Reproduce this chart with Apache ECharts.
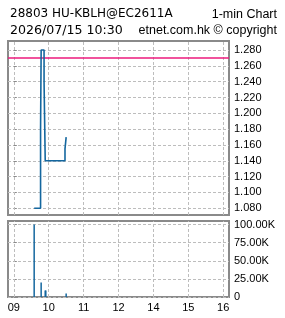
<!DOCTYPE html>
<html><head><meta charset="utf-8">
<script src="https://cdn.jsdelivr.net/npm/echarts@6/dist/echarts.min.js"></script>
<style>html,body{margin:0;padding:0;background:#fff}#c{width:285px;height:318px}</style>
</head><body><div id="c"></div>
<script>
// x values are trading minutes after 09:00 (lunch break 12:00-13:00 removed)
const xTickValues = [0, 60, 120, 180, 240, 300, 360];
const xTickLabels = ['09', '10', '11', '12', '14', '15', '16'];
const priceTicks = [1.08, 1.10, 1.12, 1.14, 1.16, 1.18, 1.20, 1.22, 1.24, 1.26, 1.28];
const volTicks = [0, 25000, 50000, 75000, 100000];
const priceMinutes = [35, 46, 47, 52, 54, 88, 90];
const priceValues = [1.080, 1.180, 1.280, 1.240, 1.140, 1.155, 1.170];
const refPrice = 1.270;
const volMinutes = [35, 47, 54, 55, 90];
const volValues = [100000, 20000, 9000, 9000, 5000];
const titleLeft1 = '28803 HU-KBLH@EC2611A';
const titleRight1 = '1-min Chart';
const titleLeft2 = '2026/07/15 10:30';
const titleRight2 = 'etnet.com.hk © copyright';

const chart = echarts.init(document.getElementById('c'), null, {renderer: 'canvas'});
const gridColor = '#bdbdbd';
const borderColor = '#8a8a8a';
const fontL = {fontFamily: 'DejaVu Sans', fontSize: 12, color: '#000', fontWeight: 'normal'};
const fontL2 = {fontFamily: 'DejaVu Sans', fontSize: 12.6, color: '#000', fontWeight: 'normal'};
const fontR = {fontFamily: 'Liberation Sans', fontSize: 12.5, color: '#000', fontWeight: 'normal'};
const splitDash = {show: true, lineStyle: {color: gridColor, type: [3, 2], width: 1}};
const vGridStyle = {color: gridColor, type: [3, 2], width: 1};
const vGrid = xTickValues.map(v => ({xAxis: v, lineStyle: vGridStyle}));

function xAxis(gi, showLabel) {
  return {
    type: 'value', gridIndex: gi, min: -10, max: 370,
    axisLine: {show: false},
    axisTick: {show: false, customValues: xTickValues},
    axisLabel: {show: showLabel, customValues: xTickValues, margin: 5,
      fontFamily: 'Liberation Sans', fontSize: 11, color: '#000',
      formatter: v => xTickLabels[xTickValues.indexOf(v)]},
    splitLine: {show: false}
  };
}

chart.setOption({
  animation: false,
  backgroundColor: '#fff',
  title: [
    {text: titleLeft1, left: 10, top: 8, padding: 0, textStyle: fontL},
    {text: titleRight1, right: 8, top: 8, padding: 0, textStyle: fontR},
    {text: titleLeft2, left: 10, top: 24, padding: 0, textStyle: fontL2},
    {text: titleRight2, right: 8, top: 24, padding: 0, textStyle: fontR}
  ],
  grid: [
    {left: 8, top: 41, width: 221, height: 174, show: true, borderColor: borderColor, borderWidth: 2, backgroundColor: 'transparent'},
    {left: 8, top: 221, width: 221, height: 76, show: true, borderColor: borderColor, borderWidth: 2, backgroundColor: 'transparent'}
  ],
  xAxis: [xAxis(0, false), xAxis(1, true)],
  yAxis: [
    {type: 'value', gridIndex: 0, position: 'right', min: 1.0715, max: 1.2914,
      axisLine: {show: false},
      axisTick: {show: true, length: 3, customValues: priceTicks, lineStyle: {color: borderColor}},
      axisLabel: {customValues: priceTicks, margin: 5, fontFamily: 'Liberation Sans', fontSize: 11, color: '#000',
        formatter: v => v.toFixed(3)},
      splitLine: splitDash},
    {type: 'value', gridIndex: 1, position: 'right', min: 0, max: 105000,
      axisLine: {show: false},
      axisTick: {show: true, length: 3, customValues: volTicks, lineStyle: {color: borderColor}},
      axisLabel: {customValues: volTicks, margin: 5, fontFamily: 'Liberation Sans', fontSize: 11, color: '#000',
        formatter: v => v === 0 ? '0' : (v / 1000).toFixed(2) + 'K'},
      splitLine: splitDash}
  ],
  series: [
    {type: 'line', xAxisIndex: 0, yAxisIndex: 0, step: 'end', showSymbol: false, z: 3,
      data: priceMinutes.map((m, i) => [m, priceValues[i]]),
      lineStyle: {color: '#14679f', width: 1.6},
      markLine: {silent: true, symbol: 'none', label: {show: false}, z: 1,
        data: vGrid.concat([{yAxis: refPrice, lineStyle: {color: '#ec1a7c', width: 1.5, type: 'solid'}}])}},
    {type: 'bar', xAxisIndex: 1, yAxisIndex: 1, barWidth: 1.5, z: 3,
      data: volMinutes.map((m, i) => [m, volValues[i]]),
      itemStyle: {color: '#14679f'},
      markLine: {silent: true, symbol: 'none', label: {show: false}, z: 1, data: vGrid}}
  ]
});
</script></body></html>
